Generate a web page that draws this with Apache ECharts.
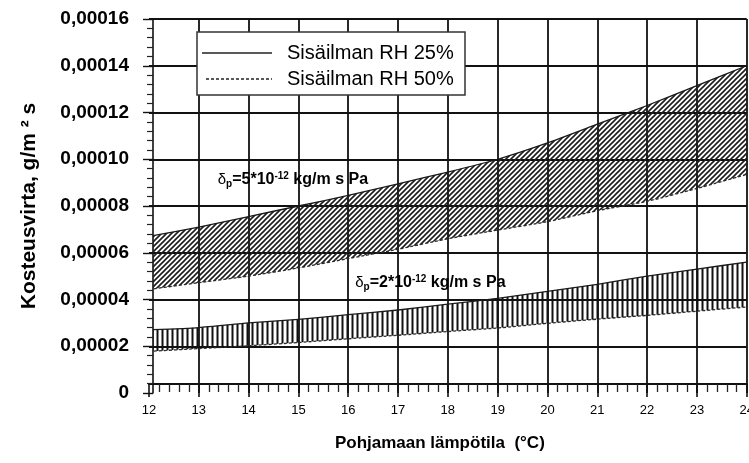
<!DOCTYPE html>
<html>
<head>
<meta charset="utf-8">
<script src="https://cdn.jsdelivr.net/npm/echarts@6/dist/echarts.min.js"></script>
<style>
  html, body { margin: 0; padding: 0; background: #fff; }
  #chart { width: 749px; height: 463px; }
</style>
</head>
<body>
<div id="chart"></div>
<script>
// Basement temperature (°C)
const temperatures = [12, 13, 14, 15, 16, 17, 18, 19, 20, 21, 22, 23, 24];

// Moisture flux, g/m² s — vapour permeability 5*10^-12 kg/m s Pa
const flux5RH25 = [6.70e-5, 7.10e-5, 7.55e-5, 8.00e-5, 8.45e-5, 8.95e-5, 9.45e-5, 10.00e-5, 10.70e-5, 11.50e-5, 12.30e-5, 13.15e-5, 14.00e-5];
const flux5RH50 = [4.43e-5, 4.72e-5, 5.00e-5, 5.35e-5, 5.75e-5, 6.15e-5, 6.60e-5, 6.97e-5, 7.33e-5, 7.80e-5, 8.20e-5, 8.75e-5, 9.35e-5];

// Moisture flux, g/m² s — vapour permeability 2*10^-12 kg/m s Pa
const flux2RH25 = [2.70e-5, 2.80e-5, 3.00e-5, 3.15e-5, 3.35e-5, 3.55e-5, 3.80e-5, 4.05e-5, 4.35e-5, 4.65e-5, 5.00e-5, 5.30e-5, 5.60e-5];
const flux2RH50 = [1.78e-5, 1.90e-5, 2.02e-5, 2.16e-5, 2.32e-5, 2.47e-5, 2.63e-5, 2.78e-5, 2.98e-5, 3.16e-5, 3.32e-5, 3.50e-5, 3.68e-5];

const yTicks = [0, 0.00002, 0.00004, 0.00006, 0.00008, 0.00010, 0.00012, 0.00014, 0.00016];
const legendNames = ['Sisäilman RH 25%', 'Sisäilman RH 50%'];

const FONT = '"Liberation Sans", Arial, Helvetica, sans-serif';
const INK = '#111';
const DASH = [3, 2];
const Y_AXIS_SHIFT = 4; // the value axis line sits a few pixels right of x = 12

// Hatch fills for the two permeability bands
function diagonalHatch() {
  const c = document.createElement('canvas');
  c.width = 5; c.height = 5;
  const g = c.getContext('2d');
  g.strokeStyle = '#1c1c1c';
  g.lineWidth = 1.6;
  g.beginPath();
  g.moveTo(-1, 6); g.lineTo(6, -1);
  g.moveTo(-1, 1); g.lineTo(1, -1);
  g.moveTo(4, 6); g.lineTo(6, 4);
  g.stroke();
  return c;
}
function verticalHatch() {
  const c = document.createElement('canvas');
  c.width = 5; c.height = 4;
  const g = c.getContext('2d');
  g.fillStyle = '#111';
  g.fillRect(1.5, 0, 2, 4);
  return c;
}

// One band: hatched area between the RH 50 % curve (dashed, lower)
// and the RH 25 % curve (solid, upper)
function bandSeries(lower, upper, pattern) {
  return {
    type: 'custom',
    coordinateSystem: 'cartesian2d',
    data: temperatures.map((t, i) => [t, lower[i], upper[i]]),
    encode: { x: 0, y: [1, 2] },
    silent: true,
    z: 3,
    renderItem(params, api) {
      if (params.dataIndexInside !== 0) return null;
      const lo = [], hi = [];
      for (let i = 0; i < params.dataInsideLength; i++) {
        const t = api.value(0, i);
        lo.push(api.coord([t, api.value(1, i)]));
        hi.push(api.coord([t, api.value(2, i)]));
      }
      const cs = params.coordSys;
      return {
        type: 'group',
        clipPath: {
          type: 'rect',
          shape: { x: cs.x + Y_AXIS_SHIFT, y: cs.y - 2, width: cs.width - Y_AXIS_SHIFT + 2, height: cs.height + 4 }
        },
        children: [
          { type: 'polygon', shape: { points: hi.concat(lo.slice().reverse()) },
            style: { fill: { image: pattern, repeat: 'repeat' }, stroke: null } },
          { type: 'polyline', shape: { points: hi, smooth: 0.2 },
            style: { stroke: '#1a1a1a', lineWidth: 1.3, fill: null } },
          { type: 'polyline', shape: { points: lo, smooth: 0.2 },
            style: { stroke: '#2a2a2a', lineWidth: 1.3, lineDash: DASH, fill: null } }
        ]
      };
    }
  };
}

const chart = echarts.init(document.getElementById('chart'), null, { renderer: 'canvas' });

chart.setOption({
  backgroundColor: '#fff',
  animation: false,
  grid: { left: 149, right: 2.3, top: 19, bottom: 70, containLabel: false, outerBoundsMode: 'none' },
  xAxis: {
    type: 'value', min: 12, max: 24, interval: 1, offset: -9,
    axisLine: { show: true, lineStyle: { color: INK, width: 1.8 } },
    axisTick: { show: true, length: 13, lineStyle: { color: INK, width: 1.6 } },
    minorTick: { show: true, splitNumber: 5, length: 8, lineStyle: { color: '#222', width: 1.3 } },
    axisLabel: { margin: 20, fontFamily: FONT, fontSize: 13, color: '#000' },
    splitLine: { show: true, showMinLine: false, lineStyle: { color: INK, width: 1.8 } },
    name: 'Pohjamaan lämpötila  (°C)',
    nameLocation: 'middle', nameGap: 51,
    nameTextStyle: { fontFamily: FONT, fontSize: 17, fontWeight: 'bold', color: '#000', padding: [0, 16, 0, 0] }
  },
  yAxis: {
    type: 'value', min: yTicks[0], max: yTicks[yTicks.length - 1], interval: yTicks[1] - yTicks[0], offset: -Y_AXIS_SHIFT,
    axisLine: { show: true, lineStyle: { color: INK, width: 1.6 } },
    axisTick: { show: true, length: 10, lineStyle: { color: INK, width: 1.4 } },
    minorTick: { show: true, splitNumber: 5, length: 6, lineStyle: { color: '#222', width: 1.2 } },
    axisLabel: {
      margin: 24, fontFamily: FONT, fontSize: 19, fontWeight: 'bold', color: '#000',
      formatter: v => (v === 0 ? '0' : v.toFixed(5).replace('.', ','))
    },
    splitLine: { show: true, showMinLine: false, lineStyle: { color: INK, width: 1.8 } },
    name: 'Kosteusvirta, g/m ² s',
    nameLocation: 'middle', nameGap: 113,
    nameTextStyle: { fontFamily: FONT, fontSize: 21, fontWeight: 'bold', color: '#000' }
  },
  series: [
    bandSeries(flux5RH50, flux5RH25, diagonalHatch()),
    bandSeries(flux2RH50, flux2RH25, verticalHatch())
  ]
});

// Permeability labels, anchored in data space
const permLabels = [
  { at: [13.38, 9.11e-5], factor: '5' },
  { at: [16.14, 4.71e-5], factor: '2' }
];
const rich = {
  d: { fontFamily: FONT, fontSize: 15, fill: '#000', lineHeight: 18, verticalAlign: 'middle' },
  s: { fontFamily: FONT, fontSize: 10, fontWeight: 'bold', fill: '#000', lineHeight: 8, verticalAlign: 'bottom' },
  n: { fontFamily: FONT, fontSize: 16, fontWeight: 'bold', fill: '#000', lineHeight: 18, verticalAlign: 'middle' },
  u: { fontFamily: FONT, fontSize: 10, fontWeight: 'bold', fill: '#000', lineHeight: 8, verticalAlign: 'top' }
};
const permGraphics = permLabels.map(p => {
  const [px, py] = chart.convertToPixel({ gridIndex: 0 }, p.at);
  return {
    type: 'text', x: px, y: py, z: 20, silent: true,
    style: {
      text: '{d|δ}{s|p}{n|=' + p.factor + '*10}{u|-12}{n| kg/m s Pa}',
      rich: rich, align: 'left', verticalAlign: 'middle'
    }
  };
});

// Legend box: solid line = RH 25 %, dashed line = RH 50 %
const legendBox = { left: 197, top: 32, width: 268, height: 63 };
const legendRows = [
  { name: legendNames[0], dash: null, x0: 202 },
  { name: legendNames[1], dash: DASH, x0: 206 }
];
const legendGraphics = [{
  type: 'rect', z: 30, silent: true,
  shape: { x: legendBox.left, y: legendBox.top, width: legendBox.width, height: legendBox.height },
  style: { fill: '#fff', stroke: '#333', lineWidth: 1.5 }
}];
legendRows.forEach((row, i) => {
  const y = legendBox.top + 21 + i * 26;
  legendGraphics.push({
    type: 'line', z: 31, silent: true,
    shape: { x1: row.x0, y1: y, x2: 272, y2: y },
    style: { stroke: '#222', lineWidth: 1.3, lineDash: row.dash }
  });
  legendGraphics.push({
    type: 'text', z: 31, silent: true, x: 287, y: y,
    style: { text: row.name, fontFamily: FONT, fontSize: 20, fill: '#000', align: 'left', verticalAlign: 'middle' }
  });
});

chart.setOption({ graphic: permGraphics.concat(legendGraphics) });
</script>
</body>
</html>
